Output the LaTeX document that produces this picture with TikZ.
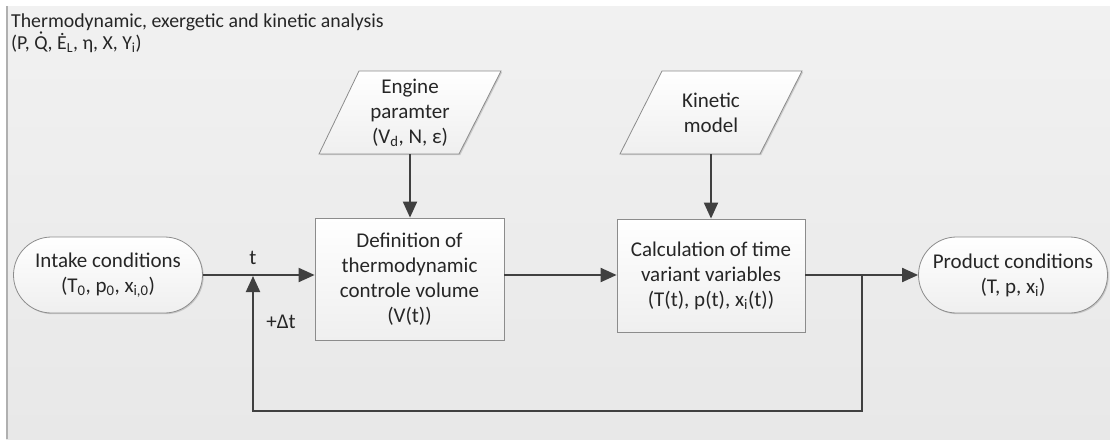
\documentclass[tikz,border=0pt]{standalone}
\usepackage{fontspec}
\setmainfont{Carlito}
\usetikzlibrary{arrows.meta,shadows,calc,shapes.misc}
\definecolor{panelTop}{HTML}{F1F1F1}
\definecolor{panelBot}{HTML}{E8E8E8}
\definecolor{edgeline}{HTML}{B0B0B0}
\definecolor{bord}{HTML}{8C8C8C}
\definecolor{shapebot}{HTML}{EFEFEF}
\definecolor{conncol}{HTML}{404040}
\definecolor{txt}{HTML}{262626}
\newcommand{\lsub}[1]{\textsubscript{#1}}
\newcommand{\dotQ}{{\ooalign{Q\cr\hidewidth\raisebox{0.18em}{˙}\hidewidth\cr}}}
\begin{document}
\begin{tikzpicture}[x=1pt,y=-1pt,
  every node/.style={font=\fontsize{21}{25}\selectfont, text=txt},
  titletext/.style={inner sep=0pt, font=\fontsize{19.8}{23}\selectfont},
  shapestyle/.style={draw=bord, line width=0.8pt, top color=white, bottom color=shapebot,
     drop shadow={shadow xshift=1.2pt,shadow yshift=-1.2pt,fill=black,opacity=0.15}},
  term/.style={shapestyle, rounded rectangle, minimum width=189pt, minimum height=76pt, inner sep=0pt, align=center},
  proc/.style={shapestyle, rectangle, inner sep=0pt, align=center},
  paraframe/.style={shapestyle, line join=miter},
  paratext/.style={rectangle, inner sep=0pt, align=center, minimum width=182pt, minimum height=83pt},
  conn/.style={draw=conncol, line width=2pt, -{Triangle[length=16pt,width=14pt]}},
  lbl/.style={inner sep=0pt},
]
\useasboundingbox (0,0) rectangle (1110,439);
% panel
\fill[top color=panelTop, bottom color=panelBot] (6,6) rectangle (1110,439);
\draw[edgeline, line width=1.5pt] (6.8,6) -- (6.8,439);
% title
\node[titletext, anchor=base west] (title1) at (11,27.5) {Thermodynamic, exergetic and kinetic analysis};
\node[titletext, anchor=base west] (title2) at (11,49) {(P, \dotQ, Ė\lsub{L}, η, X, Y\lsub{i})};
% parallelogram frames
\draw[paraframe] (359,71) -- (501,71) -- (459,154) -- (319,154) -- cycle;
\draw[paraframe] (662,71) -- (802,71) -- (760,154) -- (620,154) -- cycle;
% nodes
\node[paratext] (eng) at (410,112.5) {Engine\\paramter\\(V\lsub{d}, N, ε)};
\node[paratext] (kin) at (711,112.5) {Kinetic\\model};
\node[term] (intake) at (108,275) {Intake conditions\\(T\lsub{0}, p\lsub{0}, x\lsub{i,0})};
\node[proc, minimum width=189pt, minimum height=122pt] (def) at (409.5,279) {Definition of\\thermodynamic\\controle volume\\(V(t))};
\node[proc, minimum width=188pt, minimum height=113pt] (calc) at (711,275.5) {Calculation of time\\variant variables\\(T(t), p(t), x\lsub{i}(t))};
\node[term] (prod) at (1013,275) {Product conditions\\(T, p, x\lsub{i})};
% junctions
\coordinate (j1) at (253,275);
\coordinate (j2) at (862,275);
\coordinate (b1) at (253,411);
\coordinate (b2) at (862,411);
% labels
\node[lbl] (tlab) at (253,258) {t};
\node[lbl] (dtlab) at (281,322) {+Δt};
% connectors
\draw[conn] (intake.east) -- (def.west |- j1);
\draw[conn] (def.east |- j1) -- (calc.west |- j1);
\draw[conn] (calc.east |- j2) -- (prod.west);
\draw[conn] (j2) -- (b2) -- (b1) -- ($(j1)+(0,1)$);
\draw[conn] (eng.south) -- (eng.south |- def.north);
\draw[conn] (kin.south) -- (kin.south |- calc.north);
\end{tikzpicture}
\end{document}
